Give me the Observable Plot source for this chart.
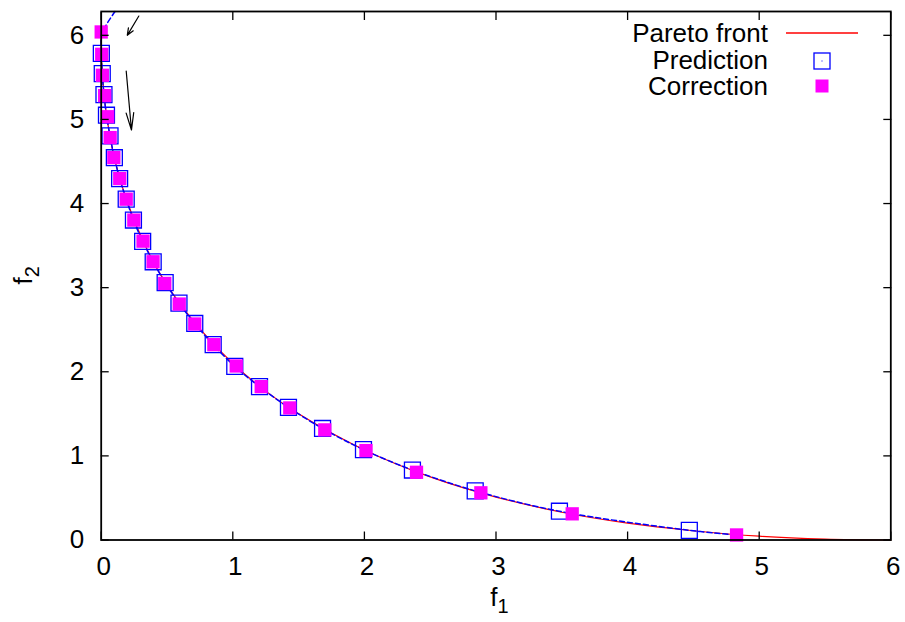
<!DOCTYPE html>
<html>
<head>
<meta charset="utf-8">
<script src="https://cdn.jsdelivr.net/npm/d3@7"></script>
<script src="https://cdn.jsdelivr.net/npm/@observablehq/plot@0.6"></script>
<style>
  body { margin: 0; background: #fff; }
  #chart svg { display: block; }
</style>
</head>
<body>
<div id="chart"></div>
<script>
// Pareto front (solid red)
const frontX = [0, 0.0025, 0.01, 0.04, 0.1, 0.2, 0.35, 0.5, 0.75, 1, 1.25, 1.5, 2, 2.5, 3, 3.5, 4, 4.5, 5, 5.5, 6];
const frontY = [6.0, 5.755, 5.52, 5.06, 4.54, 4.01, 3.45, 3.03, 2.51, 2.10, 1.77, 1.50, 1.07, 0.75, 0.51, 0.33, 0.20, 0.11, 0.045, 0.011, 0];

// Predictor steps (open blue squares)
const predX = [0.001, 0.008, 0.021, 0.040, 0.067, 0.100, 0.140, 0.190, 0.245, 0.315, 0.395, 0.486, 0.591, 0.711, 0.851, 1.015, 1.203, 1.423, 1.682, 1.993, 2.365, 2.842, 3.482, 4.469];
const predY = [5.786, 5.545, 5.295, 5.050, 4.804, 4.545, 4.297, 4.052, 3.804, 3.550, 3.308, 3.060, 2.816, 2.574, 2.322, 2.064, 1.823, 1.576, 1.326, 1.074, 0.832, 0.584, 0.342, 0.115];

// Corrector steps (filled magenta squares)
const corrX = [0.000, 0.004, 0.009, 0.026, 0.049, 0.068, 0.096, 0.141, 0.190, 0.248, 0.318, 0.394, 0.483, 0.593, 0.711, 0.856, 1.026, 1.216, 1.433, 1.699, 2.012, 2.396, 2.885, 3.579, 4.828];
const corrY = [6.04, 5.774, 5.525, 5.283, 5.032, 4.784, 4.546, 4.297, 4.052, 3.803, 3.553, 3.308, 3.050, 2.805, 2.568, 2.322, 2.069, 1.823, 1.570, 1.309, 1.063, 0.805, 0.561, 0.311, 0.06];

// Continuation path traced by the predictor (dashed blue)
const pathX = [0.105, 0.033, 0.004].concat(predX, [4.78]);
const pathY = [6.283, 6.11, 6.0].concat(predY, [0.065]);

// Direction arrows
const arrowX1 = [0.286, 0.190];
const arrowY1 = [6.229, 5.576];
const arrowX2 = [0.198, 0.230];
const arrowY2 = [6.0, 4.875];

const xTicks = [0, 1, 2, 3, 4, 5, 6];
const yTicks = [0, 1, 2, 3, 4, 5, 6];
const legendLabels = ["Pareto front", "Prediction", "Correction"];

const pts = (xs, ys) => xs.map((x, i) => ({x, y: ys[i]}));
const front = pts(frontX, frontY);
const pred = pts(predX, predY);
const corr = pts(corrX, corrY);
const path = pts(pathX, pathY);
const arrows = arrowX1.map((x1, i) => ({x1, y1: arrowY1[i], x2: arrowX2[i], y2: arrowY2[i]}));

const W = 905, H = 622;
const mL = 100.7, mR = 14.7, mT = 11, mB = 82.5;
const font = "'Liberation Sans', Arial, Helvetica, sans-serif";
const blank = () => "";

const chart = Plot.plot({
  width: W, height: H,
  marginLeft: mL, marginRight: mR, marginTop: mT, marginBottom: mB,
  style: {fontFamily: font, fontSize: "26px", background: "#fff", color: "#000", overflow: "visible"},
  x: {domain: [0, 6], label: null},
  y: {domain: [0, 2 * Math.PI], label: null},
  marks: [
    Plot.line(front, {x: "x", y: "y", stroke: "#ff0000", strokeWidth: 1.2, curve: "catmull-rom"}),
    Plot.line(path, {x: "x", y: "y", stroke: "#0000ff", strokeWidth: 1.5, strokeDasharray: "5,3", curve: "catmull-rom"}),
    Plot.dot(pred, {x: "x", y: "y", symbol: "square", r: 9.0, stroke: "#0000ff", strokeWidth: 1.3, fill: "none"}),
    Plot.dot(corr, {x: "x", y: "y", symbol: "square", r: 7.5, fill: "#ff00ff", stroke: "none"}),
    Plot.arrow(arrows, {filter: (d, i) => i === 0, x1: "x1", y1: "y1", x2: "x2", y2: "y2", stroke: "#000", strokeWidth: 1.2, headLength: 22, headAngle: 44}),
    Plot.arrow(arrows, {filter: (d, i) => i === 1, x1: "x1", y1: "y1", x2: "x2", y2: "y2", stroke: "#000", strokeWidth: 1.2, headLength: 22, headAngle: 25}),
    Plot.frame({stroke: "#000", strokeWidth: 1.8}),
    // inward ticks on all four sides
    Plot.axisX({ticks: xTicks, anchor: "bottom", tickSize: -8, strokeWidth: 1.3, label: null, tickFormat: blank}),
    Plot.axisX({ticks: xTicks, anchor: "top", tickSize: -8, strokeWidth: 1.3, label: null, tickFormat: blank}),
    Plot.axisY({ticks: yTicks, anchor: "left", tickSize: -8, strokeWidth: 1.3, label: null, tickFormat: blank}),
    Plot.axisY({ticks: yTicks, anchor: "right", tickSize: -8, strokeWidth: 1.3, label: null, tickFormat: blank}),
    // tick labels
    Plot.axisX({ticks: xTicks, anchor: "bottom", tickSize: 0, tickPadding: 17, dx: 2.5, label: null, tickFormat: d => String(d)}),
    Plot.axisY({ticks: yTicks, anchor: "left", tickSize: 0, tickPadding: 17, label: null, tickFormat: d => String(d)})
  ]
});

const svg = d3.select(chart);
svg.attr("font-family", font);

// Axis titles with subscripts
const cx = mL + (W - mL - mR) / 2;
const cy = mT + (H - mT - mB) / 2;
const xl = svg.append("text").attr("x", cx + 4).attr("y", 606).attr("text-anchor", "middle").attr("font-size", 26).attr("fill", "#000");
xl.append("tspan").text("f");
xl.append("tspan").attr("font-size", 20).attr("dy", 7).text("1");
const yl = svg.append("text").attr("transform", `translate(31.5,${cy}) rotate(-90)`).attr("text-anchor", "middle").attr("font-size", 26).attr("fill", "#000");
yl.append("tspan").text("f");
yl.append("tspan").attr("font-size", 20).attr("dy", 7).text("2");

// Key, top-right inside the frame
const key = svg.append("g");
const rowY = [33, 60, 86];
legendLabels.forEach((t, i) => {
  key.append("text").attr("x", 768).attr("y", rowY[i]).attr("dy", "0.35em")
    .attr("text-anchor", "end").attr("font-size", 26).attr("fill", "#000").text(t);
});
key.append("line").attr("x1", 786).attr("x2", 858).attr("y1", rowY[0]).attr("y2", rowY[0])
  .attr("stroke", "#ff0000").attr("stroke-width", 1.5);
key.append("rect").attr("x", 822 - 8).attr("y", rowY[1] + 1 - 8).attr("width", 16).attr("height", 16)
  .attr("fill", "none").attr("stroke", "#0000ff").attr("stroke-width", 1.3);
key.append("rect").attr("x", 821.5).attr("y", rowY[1] + 0.5).attr("width", 1).attr("height", 1).attr("fill", "#0000ff");
key.append("rect").attr("x", 822 - 6.5).attr("y", rowY[2] - 6.5).attr("width", 13).attr("height", 13)
  .attr("fill", "#ff00ff");

document.getElementById("chart").appendChild(chart);
</script>
</body>
</html>
